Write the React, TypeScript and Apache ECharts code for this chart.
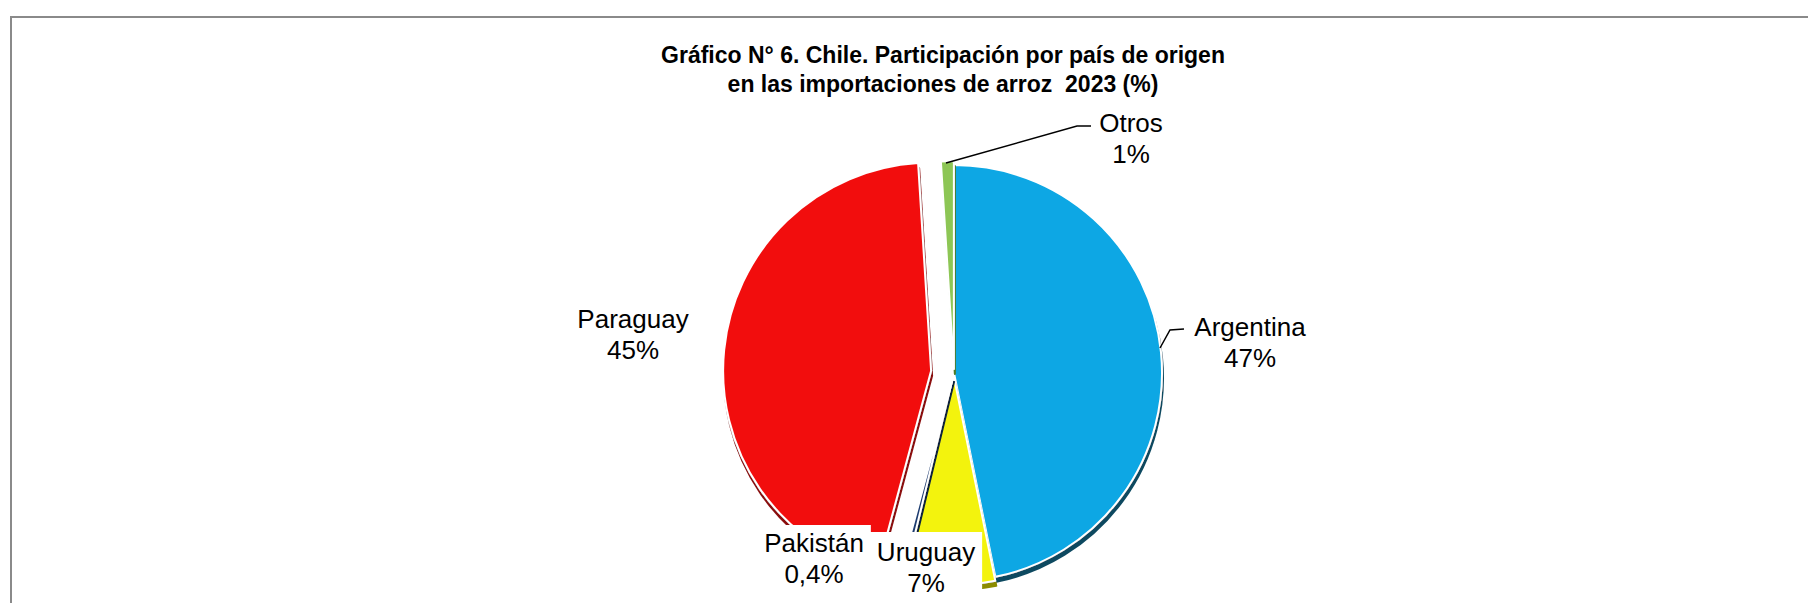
import React, { useEffect, useRef } from 'react';
import * as echarts from 'echarts';

const countries = ['Argentina', 'Uruguay', 'Pakistán', 'Paraguay', 'Otros'];
const shares = [47, 7, 0.4, 45, 1];
const colors = ['#0aa7e4', '#f3f30c', '#1f3c70', '#f21111', '#8dc654'];
const rimColors = ['#0b4a60', '#8c8c00', '#10203c', '#8a0808', '#4d7a25'];
const titleLines = [
  'Gráfico N° 6. Chile. Participación por país de origen',
  'en las importaciones de arroz  2023 (%)',
];
const farExploded = ['Paraguay'];
const nearExploded = ['Uruguay', 'Pakistán', 'Otros'];

const FONT = '"Liberation Sans", Arial, sans-serif';

export default function App() {
  const ref = useRef<HTMLDivElement>(null);

  useEffect(() => {
    if (!ref.current) return;
    const chart = echarts.init(ref.current, undefined, { renderer: 'svg' });

    // label placement (layout only)
    const labelPos: Record<string, { x: number; y: number; boxed?: boolean; padTop?: number }> = {
      Argentina: { x: 1250, y: 342 },
      Paraguay: { x: 633, y: 334 },
      Otros: { x: 1131, y: 138 },
      'Pakistán': { x: 814, y: 525, boxed: true, padTop: 2 },
      Uruguay: { x: 926, y: 532, boxed: true, padTop: 4 },
    };
    const leaderLines: Record<string, number[][]> = {
      Argentina: [[1160, 348], [1170, 330], [1184, 329]],
      Otros: [[946, 163], [1077, 126], [1091, 126]],
    };

    const makeData = (members: string[]) =>
      countries.map((name, i) => {
        const visible = members.includes(name);
        return {
          name,
          value: shares[i],
          selected: visible && (farExploded.includes(name) || nearExploded.includes(name)),
          itemStyle: visible
            ? {
                color: colors[i],
                borderColor: '#ffffff',
                borderWidth: 2,
                shadowColor: rimColors[i],
                shadowOffsetY: 5,
                shadowOffsetX: 1,
                shadowBlur: 0,
              }
            : { color: 'rgba(0,0,0,0)', borderWidth: 0, shadowColor: 'rgba(0,0,0,0)' },
        };
      });

    const labelText = (i: number) =>
      `${countries[i]}\n${String(shares[i]).replace('.', ',')}%`;

    const labelGraphics: any[] = countries.map((name, i) => {
      const p = labelPos[name];
      return {
        type: 'text',
        x: p.x,
        y: p.y,
        z: 100,
        silent: true,
        style: {
          text: labelText(i),
          fill: '#000',
          fontFamily: FONT,
          fontSize: 26,
          lineHeight: 31,
          align: 'center',
          verticalAlign: p.boxed ? 'top' : 'middle',
          ...(p.boxed
            ? { backgroundColor: '#ffffff', padding: [p.padTop || 0, 7, 20, 7] }
            : {}),
        },
      };
    });

    const lineGraphics: any[] = Object.keys(leaderLines).map((k) => ({
      type: 'polyline',
      z: 100,
      silent: true,
      shape: { points: leaderLines[k] },
      style: { stroke: '#000', lineWidth: 1.5, fill: 'none' },
    }));

    const common = {
      type: 'pie',
      center: [954, 373],
      radius: [0, 208],
      startAngle: 90,
      clockwise: true,
      avoidLabelOverlap: false,
      selectedMode: 'multiple',
      silent: true,
      label: { show: false },
      labelLine: { show: false },
      emphasis: { disabled: true },
    };

    chart.setOption({
      animation: false,
      backgroundColor: '#ffffff',
      title: {
        text: titleLines.join('\n'),
        left: 943,
        top: 40,
        padding: 0,
        textAlign: 'center',
        textStyle: {
          fontFamily: FONT,
          fontSize: 23,
          fontWeight: 'bold',
          lineHeight: 29,
          color: '#000',
        },
      },
      graphic: [
        {
          type: 'rect',
          shape: { x: 11, y: 17, width: 1830, height: 640 },
          style: { fill: 'none', stroke: '#8a8a8a', lineWidth: 2 },
          silent: true,
          z: 0,
        },
        ...lineGraphics,
        ...labelGraphics,
      ],
      series: [
        {
          ...common,
          name: 'far',
          z: 1,
          selectedOffset: 23,
          data: makeData(farExploded),
        },
        {
          ...common,
          name: 'near',
          z: 2,
          selectedOffset: 4,
          data: makeData(['Argentina', ...nearExploded]),
        },
      ],
    });

    return () => chart.dispose();
  }, []);

  return (
    <div
      ref={ref}
      style={{ position: 'absolute', left: 0, top: 0, width: 1808, height: 603, background: '#fff' }}
    />
  );
}
